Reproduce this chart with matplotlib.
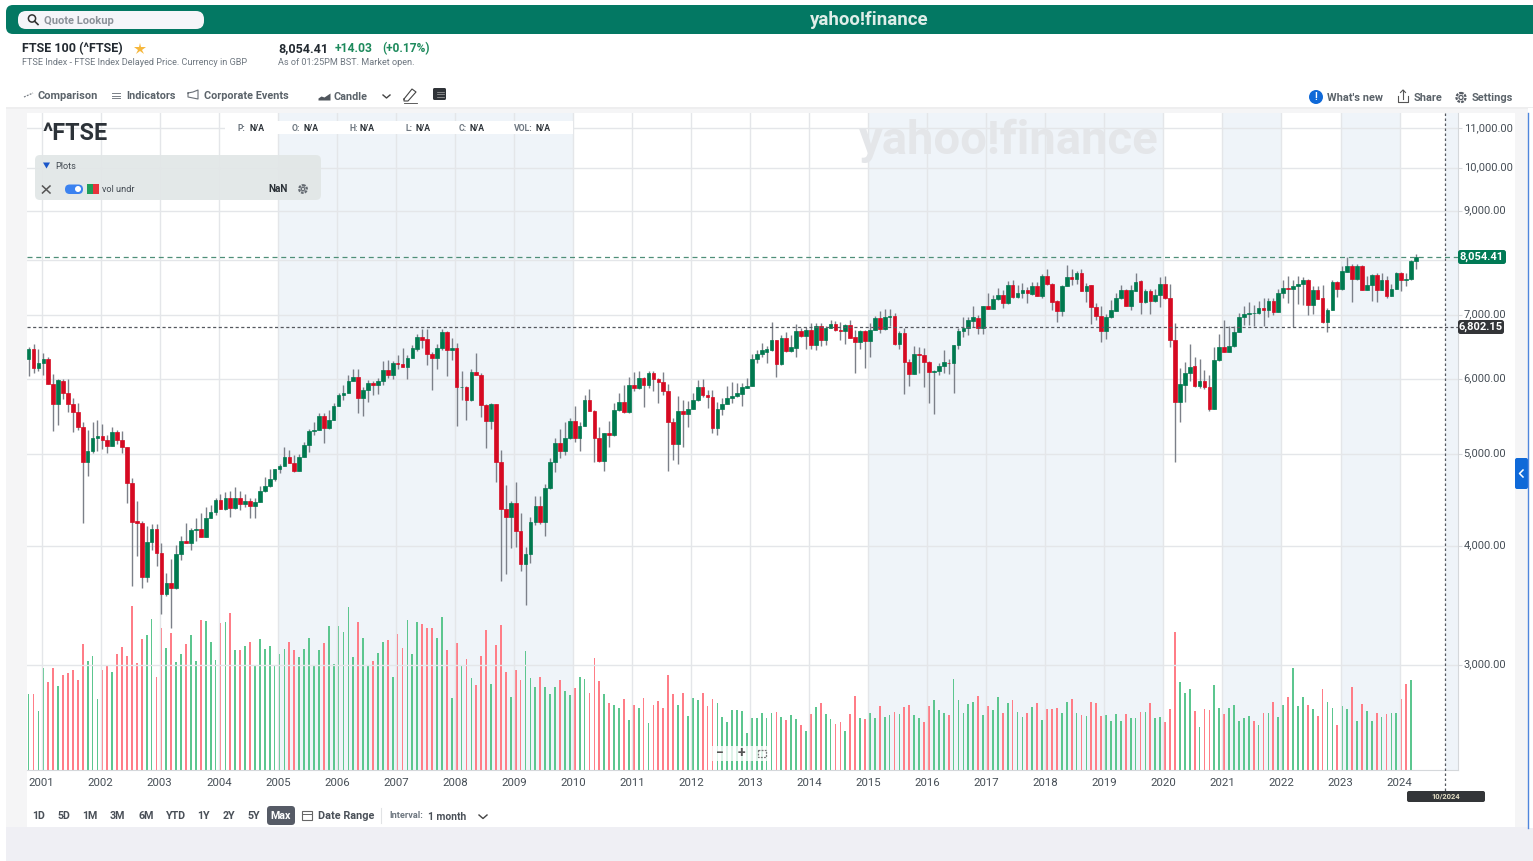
import numpy as np
import matplotlib
matplotlib.use("Agg")
import matplotlib.pyplot as plt
from matplotlib.patches import FancyBboxPatch, Rectangle, Circle
from matplotlib.ticker import NullFormatter
from matplotlib.transforms import ScaledTranslation

plt.rcParams['font.family'] = ['Roboto', 'DejaVu Sans']

# monthly candles, Oct 2000 to Apr 2024
opens = [
    6295,6450,6150,6225,6295,5920,5645,5970,5800,5645,
    5535,5340,4900,5040,5200,5225,5175,5095,5275,5170,
    5080,4660,4245,4230,3715,4040,4165,3935,3560,3655,
    3610,3925,4050,4030,4160,4165,4090,4285,4345,4470,
    4380,4490,4385,4490,4430,4465,4410,4455,4565,4625,
    4705,4815,4855,4965,4895,4800,4965,5110,5285,5300,
    5480,5320,5430,5620,5760,5795,5970,6020,5725,5840,
    5930,5905,5965,6130,6055,6225,6210,6175,6305,6450,
    6635,6605,6370,6305,6465,6720,6430,6460,5880,5885,
    5700,6090,6055,5625,5410,5640,4900,4375,4290,4435,
    4145,3825,3925,4240,4410,4240,4600,4900,5130,5040,
    5190,5415,5190,5355,5690,5550,5190,4915,5260,5230,
    5555,5675,5530,5910,5860,6005,5905,6075,6000,5955,
    5825,5395,5125,5545,5505,5570,5690,5880,5770,5745,
    5320,5570,5640,5720,5750,5780,5870,5895,6285,6365,
    6400,6425,6595,6220,6620,6415,6465,6735,6650,6755,
    6515,6815,6595,6785,6855,6750,6725,6825,6630,6550,
    6725,6565,6750,6950,6770,6960,6985,6525,6700,6250,
    6065,6365,6360,6250,6090,6105,6180,6235,6230,6505,
    6725,6785,6905,6955,6785,7150,7105,7270,7340,7200,
    7535,7310,7375,7435,7370,7505,7325,7700,7550,7235,
    7060,7510,7680,7645,7755,7425,7520,7135,6990,6725,
    6960,7075,7285,7435,7160,7425,7595,7215,7420,7235,
    7345,7550,7290,6580,5670,5910,6080,6180,5895,5970,
    5875,5570,6270,6470,6405,6490,6715,6960,7015,7030,
    7035,7115,7090,7245,7055,7380,7465,7458,7515,7545,
    7625,7170,7435,7285,6885,7085,7580,7445,7775,7890,
    7630,7875,7440,7530,7710,7440,7625,7320,7450,7745,
    7625,7630,7970]
closes = [
    6450,6150,6225,6295,5915,5645,5980,5790,5645,5535,
    5340,4900,5040,5200,5225,5170,5095,5275,5170,5080,
    4655,4240,4230,3715,4040,4165,3935,3560,3655,3610,
    3925,4050,4030,4160,4165,4090,4285,4345,4470,4380,
    4490,4385,4490,4430,4465,4410,4455,4565,4625,4705,
    4815,4855,4965,4895,4800,4965,5110,5285,5300,5480,
    5320,5430,5620,5760,5800,5970,6020,5725,5840,5930,
    5905,5970,6130,6055,6225,6210,6175,6310,6455,6635,
    6595,6365,6305,6465,6720,6430,6460,5880,5885,5700,
    6090,6055,5625,5410,5640,4900,4375,4290,4435,4145,
    3825,3925,4240,4410,4240,4600,4900,5130,5040,5190,
    5415,5190,5355,5690,5550,5190,4915,5260,5230,5555,
    5675,5530,5910,5860,6005,5905,6075,6000,5950,5825,
    5395,5125,5545,5505,5580,5690,5880,5770,5740,5320,
    5580,5645,5720,5755,5790,5880,5900,6290,6370,6425,
    6440,6595,6220,6620,6415,6470,6735,6650,6755,6515,
    6815,6595,6790,6850,6745,6725,6825,6625,6550,6725,
    6565,6750,6950,6770,6960,6985,6525,6695,6245,6065,
    6370,6355,6245,6090,6110,6180,6250,6230,6510,6740,
    6790,6910,6960,6785,7150,7105,7275,7340,7200,7535,
    7315,7380,7440,7375,7505,7325,7700,7540,7225,7060,
    7515,7680,7645,7755,7425,7515,7130,6980,6725,6965,
    7080,7290,7430,7155,7430,7590,7215,7420,7235,7350,
    7545,7290,6580,5670,5915,6085,6175,5900,5970,5875,
    5570,6275,6470,6405,6490,6715,6960,7020,7040,7040,
    7115,7090,7245,7055,7380,7470,7458,7515,7545,7625,
    7170,7435,7280,6885,7085,7580,7445,7785,7890,7630,
    7875,7440,7530,7710,7440,7625,7320,7450,7745,7625,
    7635,7975,8055]
highs = [
    6480,6525,6440,6380,6325,6060,5995,5995,5995,5730,
    5660,5395,5295,5395,5425,5370,5240,5340,5300,5285,
    5080,4715,4460,4245,4195,4220,4220,4025,3750,3880,
    4005,4100,4225,4180,4285,4330,4395,4420,4490,4535,
    4560,4565,4610,4565,4535,4490,4490,4625,4725,4820,
    4825,4880,5085,5045,4990,5000,5145,5315,5395,5515,
    5525,5560,5660,5800,5905,6050,6145,6145,5885,5985,
    5965,6010,6255,6270,6260,6345,6465,6360,6515,6690,
    6765,6765,6405,6525,6765,6740,6620,6540,6110,5890,
    6145,6385,6085,5645,5660,5645,5050,4635,4460,4670,
    4335,3995,4295,4510,4510,4650,4950,5190,5305,5400,
    5455,5610,5395,5760,5845,5555,5340,5265,5420,5650,
    5800,5910,6025,6100,6110,6025,6110,6110,6015,6100,
    5925,5460,5755,5700,5680,5800,5975,6000,5830,5830,
    5670,5730,5890,5945,5930,5930,6005,6365,6430,6540,
    6490,6880,6595,6675,6710,6660,6840,6785,6795,6865,
    6865,6865,6820,6910,6890,6880,6855,6910,6755,6755,
    6745,6865,6975,7075,7110,7095,7040,6725,6780,6285,
    6495,6470,6460,6255,6120,6235,6435,6295,6515,6780,
    6960,6965,7145,7000,7160,7375,7340,7465,7430,7595,
    7610,7525,7565,7490,7585,7585,7730,7815,7565,7265,
    7535,7905,7815,7785,7815,7565,7535,7210,7150,7020,
    7265,7385,7535,7455,7535,7745,7615,7455,7445,7445,
    7670,7700,7545,6865,6150,6245,6525,6325,6295,6125,
    6050,6470,6680,6910,6810,6810,7040,7160,7220,7170,
    7240,7285,7290,7290,7460,7625,7700,7625,7690,7670,
    7645,7500,7515,7530,7125,7610,7595,7890,8055,7915,
    7925,7905,7700,7730,7740,7750,7700,7550,7770,7770,
    7750,7995,8120]
lows = [
    6035,6085,6105,6045,5915,5290,5365,5710,5535,5270,
    5295,4230,4735,5010,5040,5055,5010,5095,5125,5015,
    4440,3630,3900,3615,3670,3960,3810,3390,3540,3280,
    3605,3870,4025,3960,4045,4085,4090,4280,4315,4380,
    4365,4295,4380,4365,4400,4280,4280,4445,4555,4615,
    4680,4775,4850,4895,4785,4795,4960,5020,5240,5295,
    5135,5305,5425,5610,5695,5790,5965,5515,5480,5670,
    5770,5775,5905,6015,6000,6145,6170,6000,6300,6415,
    6460,6195,5835,6135,6430,6035,6270,5350,5690,5430,
    5680,6045,5470,5075,5305,4665,3675,3735,3980,3990,
    3765,3465,3835,4210,4220,4095,4595,4780,4955,4985,
    5185,5150,5030,5350,5550,4900,4905,4795,5082,5220,
    5550,5525,5525,5825,5855,5605,5870,5825,5660,5765,
    4800,4930,4875,5080,5340,5570,5685,5745,5590,5255,
    5235,5490,5640,5650,5745,5615,5865,5895,6230,6320,
    6230,6420,6025,6195,6400,6405,6325,6640,6440,6440,
    6425,6500,6515,6780,6730,6595,6530,6615,6085,6450,
    6155,6315,6745,6700,6755,6810,6515,6440,5785,5890,
    6060,6085,5885,5650,5510,6055,6080,6065,5800,6440,
    6630,6660,6800,6690,6690,7100,7095,7265,7115,7195,
    7300,7300,7295,7205,7355,7320,7290,7535,7085,6875,
    6975,7505,7535,7550,7415,7215,6855,6910,6550,6610,
    6950,7065,7275,7145,7090,7420,7020,7205,7020,7215,
    7140,7275,6475,4900,5400,5670,5965,5885,5865,5855,
    5545,5570,6260,6400,6395,6480,6710,6825,6830,6810,
    7020,6820,6960,7000,7050,7295,7200,6800,7190,7170,
    7000,7015,7275,6865,6720,7085,7310,7440,7770,7215,
    7625,7435,7430,7240,7230,7435,7295,7320,7450,7420,
    7515,7625,7815]
# volume, hundreds of millions (axis is hidden on the chart)
volumes = [
    76,76,59,102,88,102,84,95,97,100,
    90,126,109,114,71,100,104,98,116,123,
    114,164,107,131,135,151,93,142,122,137,
    108,116,126,135,109,150,149,128,110,147,
    148,157,120,120,124,128,105,131,121,124,
    104,116,121,128,120,113,121,132,105,120,
    127,144,106,144,138,163,113,148,132,104,
    109,117,128,130,93,136,122,150,116,148,
    146,142,142,132,153,120,72,127,104,111,
    92,85,114,140,86,125,145,98,73,100,
    90,119,92,83,93,83,76,83,90,79,
    75,82,93,91,77,112,89,76,67,65,
    62,71,50,65,62,72,47,65,69,62,
    95,76,65,77,54,72,70,77,64,71,
    67,53,48,60,60,59,37,52,52,57,
    52,57,58,53,50,55,51,45,39,56,
    63,67,56,51,46,48,39,56,74,52,
    51,57,52,64,53,55,58,56,63,65,
    55,52,48,64,70,60,57,55,91,70,
    57,66,68,74,55,64,60,73,57,67,
    70,58,53,57,63,67,50,61,61,62,
    57,68,71,57,55,54,68,67,54,55,
    49,56,49,56,52,52,58,58,67,52,
    53,48,61,138,88,77,81,59,43,61,
    60,85,62,56,62,65,49,52,54,49,
    45,57,57,68,53,65,73,102,64,73,
    65,61,54,81,68,62,45,64,61,83,
    49,66,59,49,57,53,56,57,57,71,
    86,90,0]
vol_dirs = list(
    "grggrrgrrr" "rrgggrrgrr" "rrrrggrrgr" "ggrggrgggr" "grgrgrgggg"
    "gggrrggggg" "rggggggrgg" "rggrgrrggg" "rrrggrgrgr" "grrrgrrrgr"
    "rgggrgggrg" "grggrrrgrg" "grgrgrgrrr" "rrgrgggrrr" "gggggggggg"
    "ggrgrggrgr" "grggrrgrrg" "rggrggrgrr" "ggrrgggrgg" "gggrgrggrg"
    "rggrgrgrrr" "ggrgrgrrrg" "gggrggrgrg" "grrrgggrgr" "rggrgggggr"
    "grgrggrggg" "rgrrggrggr" "grggrgrggr" "rgg")
price_ticks = [3000, 4000, 5000, 6000, 7000, 8000, 9000, 10000, 11000]
years = list(range(2001, 2025))
shaded_years = [(2005, 2010), (2015, 2020), (2021, 2022), (2023, 2024)]
last_price = 8054.41
cross_price = 6802.15

W, H = 1533, 861
AX_L, AX_R, AX_T, AX_B = 27, 1458, 113, 770
STEP = 4.92
X0 = 28.6

GREEN = '#00794f'
RED = '#d60a22'
TXT = '#464e56'


def year_pos(y):
    return 3 + 12 * (y - 2001) - 0.35


fig = plt.figure(figsize=(W / 100, H / 100), dpi=100, facecolor='white')
rect = [AX_L / W, 1 - AX_B / H, (AX_R - AX_L) / W, (AX_B - AX_T) / H]

# page background, below the chart
bg = fig.add_axes([0, 0, 1, 1], zorder=0)
bg.set_xlim(0, W)
bg.set_ylim(H, 0)
bg.axis('off')
bg.add_patch(Rectangle((6, 108), W - 6, 719, color='#f5f5f6', lw=0))
bg.add_patch(Rectangle((AX_L, 113), 1515 - AX_L, 714, color='white', lw=0))
bg.add_patch(Rectangle((6, 827), W - 6, 34, color='#efeff4', lw=0))
bg.add_patch(Rectangle((6, 107), W - 6, 2, color='#eeeeef', lw=0))

idx = np.arange(len(opens))
o = np.array(opens, dtype=float)
c = np.array(closes, dtype=float)
xlim = ((AX_L - X0) / STEP, (AX_R - X0) / STEP)

# volume panel, shares the chart rectangle, 1 unit = 1 px
vol_ax = fig.add_axes(rect, zorder=1, facecolor='none')
vol_ax.set_xlim(*xlim)
vol_ax.set_ylim(0, AX_B - AX_T)
vol_ax.axis('off')
for a, b in shaded_years:
    vol_ax.axvspan(year_pos(a), year_pos(b), color='#eff4f9', lw=0, zorder=0)
vol_ax.axvspan((1445 - X0) / STEP, xlim[1], color='#eff4f9', lw=0, zorder=0)
vol_ax.text((1009 - X0) / STEP, AX_B - AX_T - 28, 'yahoo!finance', fontsize=34, fontweight='bold',
            color='#e4e6e9', ha='center', va='center', zorder=1)
vol_colors = ['#5cc68f' if d == 'g' else '#ff7d87' for d in vol_dirs]
vol_ax.bar(idx, volumes, width=0.36, color=vol_colors, lw=0, zorder=2)

# candles
ax = fig.add_axes(rect, zorder=2, facecolor='none')
ax.set_yscale('log')
ax.set_xlim(*xlim)
ax.set_ylim(2325, 11416)
ax.vlines(idx, lows, highs, color='#7c8089', lw=1.0, zorder=3)
body_colors = [GREEN if b >= a else RED for a, b in zip(o, c)]
ax.bar(idx, np.abs(c - o), bottom=np.minimum(o, c), width=0.74, color=body_colors,
       edgecolor=body_colors, lw=0.5, zorder=4)

ax.set_yticks(price_ticks)
# the 8,000 label sits behind the last price badge in the reference
ax.set_yticklabels(["" if v == 8000 else f"{v:,.2f}" for v in price_ticks])
ax.yaxis.set_minor_formatter(NullFormatter())
ax.yaxis.set_minor_locator(plt.NullLocator())
ax.yaxis.tick_right()
ax.set_xticks([year_pos(y) for y in years])
ax.set_xticklabels([str(y) for y in years])
ax.tick_params(axis='y', length=3, color='#d8dadd', labelsize=8.0, labelcolor=TXT, pad=1)
ax.tick_params(axis='x', length=0, labelsize=8.2, labelcolor=TXT, pad=6)
up = ScaledTranslation(0, 1.5 / 100, fig.dpi_scale_trans)
for t in ax.get_yticklabels():
    t.set_transform(t.get_transform() + up)
ax.grid(True, axis='both', color='#e4e6e9', lw=1.0, zorder=1)
ax.set_axisbelow(True)
for s in ('top', 'left'):
    ax.spines[s].set_visible(False)
for s in ('bottom', 'right'):
    ax.spines[s].set_color('#d5d8db')
ax.axhline(last_price, color='#4f8f78', lw=0.9, ls=(0, (4, 3)), zorder=5)
ax.axhline(cross_price, color='#55585f', lw=0.9, ls=(0, (2.5, 2)), zorder=5)

# everything on top of the chart, in pixels
ui = fig.add_axes([0, 0, 1, 1], zorder=3, facecolor='none')
ui.set_xlim(0, W)
ui.set_ylim(H, 0)
ui.axis('off')


def label(x, y, s, size=8.0, color=TXT, weight='normal', ha='left', **kw):
    return ui.text(x, y + 0.7, s, fontsize=size, color=color, fontweight=weight, ha=ha, va='center', **kw)


def pill(x0, y0, x1, y1, r, color, alpha=1.0):
    ui.add_patch(FancyBboxPatch((x0 + r, y0 + r), x1 - x0 - 2 * r, y1 - y0 - 2 * r,
                                boxstyle=f"round,pad={r},rounding_size={r}",
                                fc=color, ec='none', alpha=alpha))


def gear(x, y, color='#555b63', r=4.5):
    ui.add_patch(Circle((x, y), r, fc='none', ec=color, lw=1.6, ls=(0, (1.2, 0.5))))
    ui.add_patch(Circle((x, y), r * 0.45, fc='none', ec=color, lw=0.9))


# header
pill(6, 5, W + 20, 34, 7, '#037863')
pill(18, 11, 204, 29, 8, '#f5f5f9')
ui.add_patch(Circle((32, 18.5), 3.6, fc='none', ec='#333', lw=1.1))
ui.plot([34.6, 38], [21.2, 24.5], color='#333', lw=1.2)
label(44, 20, 'Quote Lookup', 8.0, '#8b9199', 'bold')
label(869.5, 19.5, 'yahoo!finance', 13.4, '#dfeee9', 'bold', ha='center')

# quote header
label(22, 47.5, 'FTSE 100 (^FTSE)', 9.0, '#232a31', 'bold')
ui.plot([140], [48.5], marker='*', ms=9, color='#f6b73c', mew=0)
label(22, 61.5, 'FTSE Index - FTSE Index Delayed Price. Currency in GBP', 6.55, '#6e7780')
label(278, 48, '8,054.41', 9.0, '#232a31', 'bold')
label(335, 48, '+14.03', 8.7, '#1d8a5c', 'bold')
label(382, 48, '(+0.17%)', 8.6, '#1d8a5c', 'bold')
label(278, 61.5, 'As of 01:25PM BST. Market open.', 6.55, '#6e7780')

# toolbar
label(38, 95.5, 'Comparison', 7.9, '#5b636a', 'bold')
ui.plot([24, 33], [97, 93], color='#7a8087', lw=0.9, ls=(0, (1.5, 1)))
label(126, 95.5, 'Indicators', 7.8, '#5b636a', 'bold')
for dy in (93, 95.5, 98):
    ui.plot([112, 120], [dy, dy], color='#7a8087', lw=0.7)
label(204, 95.5, 'Corporate Events', 7.8, '#5b636a', 'bold')
ui.plot([188, 193, 198, 198, 193, 188, 188], [93, 92, 90, 99, 98, 97, 93], color='#6a7077', lw=0.8)
ui.fill_between([318, 321, 324, 327, 330], [100, 100, 100, 100, 100], [98, 96, 97, 95, 93], color='#50565d', lw=0)
label(333, 96.5, 'Candle', 7.8, '#5b636a', 'bold')
ui.plot([383, 386.5, 390], [95, 98, 95], color='#444', lw=1.0)
ui.plot([404, 412, 416, 408, 404, 404], [99, 89, 92, 101, 101, 99], color='#444', lw=0.8)
ui.plot([404, 417], [103, 103], color='#444', lw=0.6)
pill(433, 88, 446, 100, 1.5, '#2f3338')
for dy in (91.5, 94, 96.5):
    ui.plot([437, 444], [dy, dy], color='#aaa', lw=0.5)
ui.add_patch(Circle((1316, 97), 7, fc='#0f69d8', ec='none'))
label(1316, 96.3, '!', 7.0, 'white', 'bold', ha='center')
label(1327, 97.5, "What's new", 7.9, '#5b636a', 'bold')
ui.plot([1398, 1398, 1408, 1408], [96, 102, 102, 96], color='#555', lw=0.8)
ui.plot([1403, 1403], [90, 99], color='#555', lw=0.8)
ui.plot([1400.5, 1403, 1405.5], [92.5, 90, 92.5], color='#555', lw=0.8)
label(1414, 97, 'Share', 7.9, '#5b636a', 'bold')
gear(1461, 97.5, '#555b63', 4.5)
label(1472, 97.5, 'Settings', 7.9, '#5b636a', 'bold')

# legend strip over the chart
label(42, 132.5, '^FTSE', 16.8, '#2c3238', 'bold')
ui.add_patch(Rectangle((225, 121), 348, 13, color='white', lw=0))
for x, name in [(238, 'P:'), (292, 'O:'), (349, 'H:'), (405, 'L:'), (459, 'C:'), (514, 'VOL:')]:
    t = label(x, 127.5, name, 6.2, '#6e7780', 'bold')
    label(x + (11 if name != 'VOL:' else 21), 127.5, 'N/A', 6.2, '#2c3238', 'bold')

pill(35, 155, 321, 200, 5, '#e2e7e7', 0.95)
ui.fill([43, 50, 46.5], [162.5, 162.5, 168.5], color='#1a56c9', lw=0)
label(55, 165.5, 'Plots', 6.6, '#434a52')
ui.plot([42.5, 50], [186, 193], color='#555', lw=1.1)
ui.plot([42.5, 50], [193, 186], color='#555', lw=1.1)
pill(65, 184.5, 83, 194, 4.7, '#3b82f0')
ui.add_patch(Circle((78, 189), 3, fc='white', ec='none'))
ui.add_patch(Rectangle((87, 184), 6, 10, color='#1e9e5a', lw=0))
ui.add_patch(Rectangle((93, 184), 6, 10, color='#e8323c', lw=0))
label(102, 188.5, 'vol undr', 6.6, '#434a52')
label(268, 188.5, 'NaN', 7.2, '#2c3238', 'bold')
gear(303, 189, '#666c73', 3.8)

# price badges and crosshair
pill(1458, 250, 1506, 264, 2.5, '#007a55')
label(1482, 256.5, '8,054.41', 8.0, 'white', 'bold', ha='center')
pill(1458, 320, 1504, 334, 2.5, '#333538')
label(1481, 326.5, '6,802.15', 8.0, 'white', 'bold', ha='center')
ui.plot([1445, 1445], [113, 791], color='#55585f', lw=0.9, ls=(0, (2, 2)))
pill(1407, 791, 1485, 802, 2, '#333538')
label(1446, 796, '10/2024', 5.4, '#e8e2c8', 'bold', ha='center')

# zoom buttons
ui.add_patch(Rectangle((712, 746), 58, 15, color='white', alpha=0.8, lw=0))
label(720, 752.5, '−', 10, '#555', 'bold', ha='center')
label(741, 752.5, '+', 10, '#555', 'bold', ha='center')
ui.add_patch(Rectangle((758, 750), 8, 6.5, fc='none', ec='#777', lw=0.9, ls=(0, (1.5, 1))))

# range buttons
for x, s in [(39, '1D'), (64, '5D'), (90, '1M'), (117, '3M'), (146, '6M'), (176, 'YTD'),
             (204, '1Y'), (229, '2Y'), (254, '5Y')]:
    label(x, 815, s, 7.7, '#4a5058', 'bold', ha='center')
pill(267, 806, 295, 825, 3.5, '#565b66')
label(281, 815, 'Max', 7.7, 'white', 'bold', ha='center')
ui.add_patch(Rectangle((302, 811), 10, 9, fc='none', ec='#666', lw=0.8))
ui.plot([302, 312], [814, 814], color='#666', lw=0.7)
label(318, 815, 'Date Range', 7.8, '#4a5058', 'bold')
ui.plot([381, 381], [808, 823], color='#e1e3e5', lw=0.8)
label(389, 815, 'Interval:', 6.6, '#6e7780', 'bold')
label(428, 816, '1 month', 7.4, '#4a5058', 'bold')
ui.plot([479, 483, 487], [815, 818.5, 815], color='#444', lw=1.0)

# right hand tab
ui.plot([1527.5, 1527.5], [113, 828], color='#4f86dc', lw=1.0)
ui.add_patch(Rectangle((1528, 108), 5, 720, color='white', lw=0))
pill(1515, 458, 1528, 489, 2, '#0f69d8')
ui.plot([1523, 1519.5, 1523], [470, 473.5, 477], color='white', lw=1.1)

fig.savefig('out.png', dpi=100, facecolor='white')
